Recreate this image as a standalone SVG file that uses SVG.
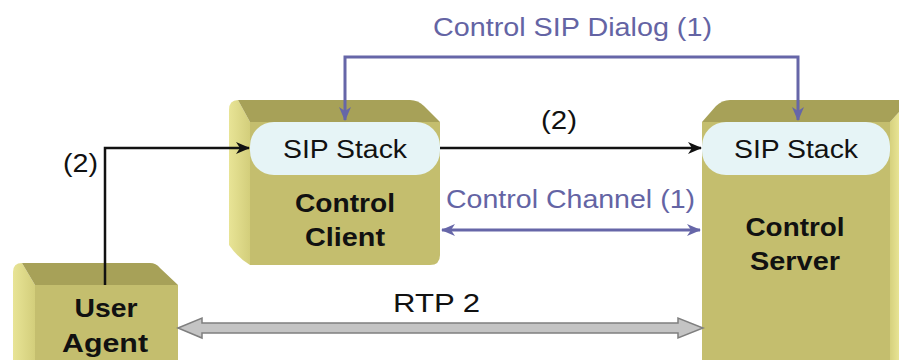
<svg xmlns="http://www.w3.org/2000/svg" width="899" height="360" viewBox="0 0 899 360">
<defs>
<style>
.front{fill:#c4be6e}
.top{fill:#a7a158}
.side{fill:url(#sideG)}
.sip{fill:#e6f4f6}
.t{font-family:"Liberation Sans",Arial,sans-serif;font-size:26px;fill:#111}
.b{font-family:"Liberation Sans",Arial,sans-serif;font-size:26px;font-weight:bold;fill:#111;text-anchor:middle}
.p{fill:#6464a4}
.blk{stroke:#111;stroke-width:2.5;fill:none}
.pur{stroke:#6666a8;stroke-width:3;fill:none}
</style>
<linearGradient id="sideG" x1="0" y1="0" x2="1" y2="0">
<stop offset="0" stop-color="#e8e496"/>
<stop offset="1" stop-color="#d3ce7b"/>
</linearGradient>
<linearGradient id="sideR" x1="0" y1="0" x2="1" y2="0">
<stop offset="0" stop-color="#d6d17e"/>
<stop offset="1" stop-color="#e8e494"/>
</linearGradient>
<marker id="ab" viewBox="0 0 14 12" refX="13" refY="6" markerWidth="14" markerHeight="12" markerUnits="userSpaceOnUse" orient="auto-start-reverse">
<path d="M0,0 L14,6 L0,12 L4,6 z" fill="#111"/>
</marker>
<marker id="ap" viewBox="0 0 14 12" refX="13" refY="6" markerWidth="14" markerHeight="12" markerUnits="userSpaceOnUse" orient="auto-start-reverse">
<path d="M0,0 L14,6 L0,12 L4,6 z" fill="#6666a8"/>
</marker>
</defs>
<rect width="899" height="360" fill="#fff"/>

<g id="user-agent">
<path class="side" d="M13,272 Q13,263 22,263 L35,285 L35,360 L13,360 z"/>
<path class="top" d="M22,263 L150,263 Q156,263 160,268 L178,285 L35,285 z"/>
<path class="front" d="M35,285 L178,285 L178,360 L35,360 z"/>
<text class="b" x="106" y="317" textLength="63" lengthAdjust="spacingAndGlyphs">User</text>
<text class="b" x="105" y="352" textLength="86" lengthAdjust="spacingAndGlyphs">Agent</text>
</g>

<g id="control-client">
<path class="side" d="M229,110 Q229,100 238,100 L250,122 L250,265 Q238,258 229,245 z"/>
<path class="top" d="M238,100 L410,100 Q418,100 424,106 L440,122 L250,122 z"/>
<path class="front" d="M250,122 L440,122 L440,255 Q440,265 430,265 L250,265 z"/>
<rect class="sip" x="250" y="122" width="190" height="53" rx="24"/>
<text class="t" x="345" y="158" text-anchor="middle" textLength="124" lengthAdjust="spacingAndGlyphs">SIP Stack</text>
<text class="b" x="345" y="212" textLength="100" lengthAdjust="spacingAndGlyphs">Control</text>
<text class="b" x="345" y="246" textLength="80" lengthAdjust="spacingAndGlyphs">Client</text>
</g>

<g id="control-server">
<path fill="url(#sideR)" d="M890,122 L899,112 L899,360 L890,360 z"/>
<path class="top" d="M702,122 L716,106 Q722,100 730,100 L899,100 L899,112 L890,122 z"/>
<path class="front" d="M702,122 L890,122 L890,360 L702,360 z"/>
<rect class="sip" x="702" y="122" width="188" height="53" rx="24"/>
<text class="t" x="796" y="158" text-anchor="middle" textLength="124" lengthAdjust="spacingAndGlyphs">SIP Stack</text>
<text class="b" x="795" y="236" textLength="99" lengthAdjust="spacingAndGlyphs">Control</text>
<text class="b" x="795" y="270" textLength="90" lengthAdjust="spacingAndGlyphs">Server</text>
</g>

<g id="connectors">
<path class="pur" d="M345,120 L345,57 L798,57 L798,120" marker-start="url(#ap)" marker-end="url(#ap)"/>
<text class="t p" x="433" y="36" textLength="279" lengthAdjust="spacingAndGlyphs">Control SIP Dialog (1)</text>
<path class="blk" d="M440,148 L701,148" marker-end="url(#ab)"/>
<text class="t" x="541" y="129" textLength="36" lengthAdjust="spacingAndGlyphs">(2)</text>
<path class="blk" d="M105,285 L105,148 L249,148" marker-end="url(#ab)"/>
<text class="t" x="63" y="172" textLength="35" lengthAdjust="spacingAndGlyphs">(2)</text>
<path class="pur" d="M442,230 L700,230" marker-start="url(#ap)" marker-end="url(#ap)"/>
<text class="t p" x="446" y="208" textLength="249" lengthAdjust="spacingAndGlyphs">Control Channel (1)</text>
<path d="M178,328 L202,318 L202,323 L678,323 L678,318 L703,328 L678,338 L678,333 L202,333 L202,338 z" fill="#c4c4c4" stroke="#7f7f7f" stroke-width="1.5"/>
<text class="t" x="393" y="312" textLength="87" lengthAdjust="spacingAndGlyphs">RTP 2</text>
</g>
</svg>
